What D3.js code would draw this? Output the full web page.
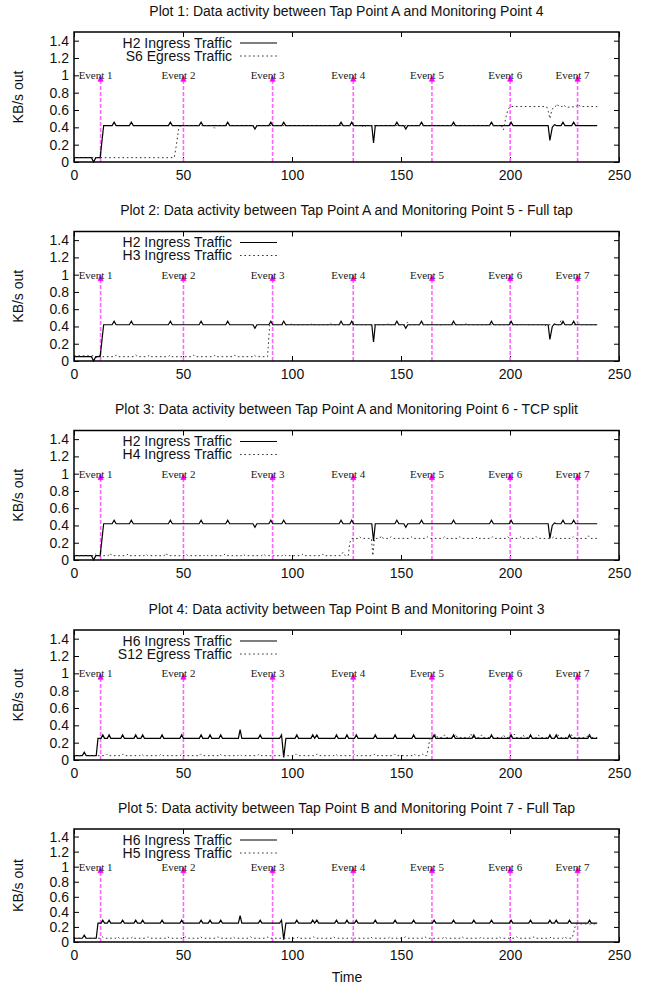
<!DOCTYPE html>
<html>
<head>
<meta charset="utf-8">
<script src="https://cdn.jsdelivr.net/npm/d3@7"></script>
<style>
  body { margin: 0; background: #fff; }
</style>
</head>
<body>
<div id="chart"></div>
<script>
// ---- data: [time, KB/s] ----
var h2Ingress = [
  [0,.05],[8,.05],[9,0],[10,.05],[12,.05],[13.6,.42],
  [17.5,.42],[18.4,.46],[19.3,.42],[25.4,.42],[26.3,.46],[27.2,.42],
  [43.3,.42],[44.2,.46],[45.1,.42],[57.4,.42],[58.3,.46],[59.2,.42],
  [69.6,.42],[70.5,.46],[71.4,.42],[82.1,.42],[83,.38],[83.9,.42],
  [89.4,.42],[90.3,.46],[91.2,.42],[95.3,.42],[96.2,.46],[97.1,.42],
  [121.6,.42],[122.5,.46],[123.4,.42],[126.5,.42],[127.4,.46],[128.3,.42],
  [136.6,.42],[137.4,.22],[138.2,.42],[147.2,.42],[148.1,.46],[149,.42],
  [151.3,.42],[152.2,.38],[153.1,.42],[158.5,.42],[159.4,.46],[160.3,.42],
  [173.2,.42],[174.1,.46],[175,.42],[190.6,.42],[191.5,.46],[192.4,.42],
  [199.6,.42],[200.5,.46],[201.4,.42],
  [217.5,.42],[218.3,.25],[219.4,.40],[220.4,.43],[221.3,.42],
  [223.4,.42],[224.3,.46],[225.2,.42],[228.3,.42],[229.2,.46],[230.1,.42],
  [240,.42]
];

var s6Egress = [
  [0,.05],[46,.05],[47,.2],[48,.38],[49,.42],
  [63.5,.42],[64.5,.39],[65.5,.42],[132,.42],[133,.40],[134,.42],
  [196,.42],[197,.37],[198,.5],[199,.6],[200,.64],
  [216.8,.64],[217.6,.58],[218.3,.50],[219.2,.60],[220.2,.64],
  [220.8,.64],[221.6,.67],[222.4,.64],[224,.64],[224.8,.66],[225.6,.63],
  [230.5,.64],[231.3,.67],[232.1,.64],[240,.64]
];

var h3Ingress = [
  [0,.06],[9,.06],[10.4,.04],[11.4,.07],[12.4,.05],
  [18.5,.05],[19.3,.07],[20.1,.05],[27.5,.05],[28.3,.07],[29.1,.05],
  [33.8,.05],[34.6,.07],[35.4,.05],[43.3,.05],[44.1,.07],[44.9,.05],
  [54.2,.05],[55,.07],[55.8,.05],[64,.05],[64.8,.07],[65.6,.05],
  [73,.05],[73.8,.07],[74.6,.05],[81.9,.05],[82.7,.07],[83.5,.05],
  [88.8,.05],[89.3,.25],[89.8,.42],
  [99.2,.42],[100,.44],[100.8,.42],[108.7,.42],[109.5,.44],[110.3,.42],
  [116.8,.42],[117.6,.44],[118.4,.42],[143.6,.42],[144.4,.44],[145.2,.42],
  [152.2,.42],[153,.45],[153.8,.42],[170.2,.42],[171,.44],[171.8,.42],
  [179.2,.42],[180,.44],[180.8,.42],[205.2,.42],[206,.44],[206.8,.42],
  [215,.42],[215.8,.40],[216.6,.42],[222.6,.42],[223.4,.47],[224.2,.42],
  [231.2,.42],[232,.44],[232.8,.42],[240,.42]
];

var h4Ingress = [
  [0,.05],[9,.05],[9.8,.07],[10.6,.05],
  [15.7,.05],[16.5,.08],[17.3,.05],[24,.05],[24.8,.07],[25.6,.05],
  [32.2,.05],[33,.07],[33.8,.05],[41.4,.05],[42.2,.08],[43,.05],
  [50.6,.05],[51.4,.07],[52.2,.05],[59.7,.05],[60.5,.07],[61.3,.05],
  [68.5,.05],[69.3,.07],[70.1,.05],[76.8,.05],[77.6,.07],[78.4,.05],
  [86.2,.05],[87,.07],[87.8,.05],[95.5,.05],[96.3,.07],[97.1,.05],
  [104.2,.05],[105,.07],[105.8,.05],[113.4,.05],[114.2,.07],[115,.05],
  [122.4,.05],[123.4,.09],[124.4,.05],[125.8,.05],[126.5,.2],[127.5,.25],
  [130.2,.25],[131,.27],[131.8,.25],[136.4,.25],[137.1,.05],[137.8,.25],
  [140.2,.25],[141,.28],[141.8,.25],[144.7,.25],[145.5,.27],[146.3,.25],
  [154.2,.25],[155,.27],[155.8,.25],[161.2,.25],[162,.27],[162.8,.25],
  [169.2,.25],[170,.27],[170.8,.25],[176.2,.25],[177,.27],[177.8,.25],
  [184.2,.25],[185,.27],[185.8,.25],[191.2,.25],[192,.27],[192.8,.25],
  [198.2,.25],[199,.27],[199.8,.25],[204.2,.25],[205,.27],[205.8,.25],
  [211.2,.25],[212,.27],[212.8,.25],[219.2,.25],[220,.27],[220.8,.25],
  [228.2,.25],[229,.27],[229.8,.25],[235.2,.25],[236,.28],[236.8,.25],
  [240,.25]
];

var h6Ingress = [
  [0,.05],[3.8,.05],[4.7,.09],[5.6,.05],[10.2,.05],[11,.25],
  [12.4,.25],[13.2,.29],[14,.25],[15.3,.25],[16.1,.29],[16.9,.25],
  [21.5,.25],[22.3,.29],[23.1,.25],[27.5,.25],[28.3,.29],[29.1,.25],
  [30.7,.25],[31.5,.29],[32.3,.25],[39.6,.25],[40.4,.29],[41.2,.25],
  [48.6,.25],[49.4,.29],[50.2,.25],[57.5,.25],[58.3,.29],[59.1,.25],
  [61.6,.25],[62.4,.29],[63.2,.25],[66.5,.25],[67.3,.29],[68.1,.25],
  [75.4,.25],[76.2,.35],[77,.25],[84.6,.25],[85.4,.29],[86.2,.25],
  [94.3,.25],[95.2,.29],[96.2,.03],[97.2,.25],
  [101.4,.25],[102.2,.29],[103,.25],[108.7,.25],[109.5,.29],[110.4,.25],
  [111.4,.29],[112.2,.25],[119.6,.25],[120.4,.29],[121.2,.25],
  [124.4,.25],[125.2,.29],[126,.25],[128.7,.25],[129.5,.29],[130.3,.25],
  [137.4,.25],[138.2,.29],[139,.25],[146.5,.25],[147.3,.29],[148.1,.25],
  [155,.25],[155.8,.29],[156.6,.25],[164.4,.25],[165.2,.29],[166,.25],
  [173.3,.25],[174.1,.29],[174.9,.25],[182.6,.25],[183.4,.29],[184.2,.25],
  [190.7,.25],[191.5,.29],[192.3,.25],[199.7,.25],[200.5,.29],[201.3,.25],
  [208.6,.25],[209.4,.29],[210.2,.25],[217.5,.25],[218.3,.29],[219.1,.25],
  [220.4,.25],[221.2,.29],[222,.25],[226.5,.25],[227.3,.29],[228.1,.25],
  [235.7,.25],[236.5,.29],[237.3,.25],[240,.25]
];

var s12Egress = [
  [0,.05],[3.8,.05],[4.7,.08],[5.6,.05],
  [14.2,.05],[15,.07],[15.8,.05],[21.7,.05],[22.5,.07],[23.3,.05],
  [30.2,.05],[31,.07],[31.8,.05],[39.2,.05],[40,.07],[40.8,.05],
  [48.7,.05],[49.5,.07],[50.3,.05],[57.2,.05],[58,.07],[58.8,.05],
  [66.2,.05],[67,.07],[67.8,.05],[75.2,.05],[76,.07],[76.8,.05],
  [84.2,.05],[85,.07],[85.8,.05],[101.2,.05],[102,.07],[102.8,.05],
  [110.7,.05],[111.5,.07],[112.3,.05],[119.2,.05],[120,.07],[120.8,.05],
  [128.2,.05],[129,.07],[129.8,.05],[137.2,.05],[138,.07],[138.8,.05],
  [146.2,.05],[147,.07],[147.8,.05],[155.2,.05],[156,.07],[156.8,.05],
  [159.2,.05],[160,.07],[160.8,.05],[161.8,.05],[162.6,.15],[163.4,.27],
  [165.2,.26],[166,.30],[166.8,.26],[169.2,.26],[170,.29],[170.8,.26],
  [174.2,.26],[175,.30],[175.8,.26],[181.2,.26],[182,.30],[182.8,.26],
  [186.2,.26],[187,.29],[187.8,.26],[196.2,.26],[197,.29],[197.8,.26],
  [201.2,.26],[202,.30],[202.8,.26],[205.2,.26],[206,.29],[206.8,.26],
  [212.2,.26],[213,.29],[213.8,.26],[221.2,.26],[222,.29],[222.8,.26],
  [227.2,.26],[228,.30],[228.8,.26],[235.2,.26],[236,.30],[236.8,.26],
  [240,.26]
];

var h5Ingress = [
  [0,.05],[3.7,.05],[4.5,.08],[5.3,.05],
  [12.2,.05],[13,.07],[13.8,.05],[19.2,.05],[20,.07],[20.8,.05],
  [26.2,.05],[27,.07],[27.8,.05],[33.2,.05],[34,.07],[34.8,.05],
  [42.2,.05],[43,.07],[43.8,.05],[50.2,.05],[51,.07],[51.8,.05],
  [57.2,.05],[58,.07],[58.8,.05],[65.2,.05],[66,.07],[66.8,.05],
  [72.2,.05],[73,.07],[73.8,.05],[80.2,.05],[81,.07],[81.8,.05],
  [88.2,.05],[89,.07],[89.8,.05],[102.2,.05],[103,.07],[103.8,.05],
  [109.2,.05],[110,.07],[110.8,.05],[118.2,.05],[119,.07],[119.8,.05],
  [127.2,.05],[128,.07],[128.8,.05],[135.2,.05],[136,.07],[136.8,.05],
  [144.2,.05],[145,.07],[145.8,.05],[151.2,.05],[152,.07],[152.8,.05],
  [160.2,.05],[161,.07],[161.8,.05],[169.2,.05],[170,.07],[170.8,.05],
  [177.2,.05],[178,.07],[178.8,.05],[186.2,.05],[187,.07],[187.8,.05],
  [194.2,.05],[195,.07],[195.8,.05],[202.2,.05],[203,.07],[203.8,.05],
  [210.2,.05],[211,.07],[211.8,.05],[218.2,.05],[219,.07],[219.8,.05],
  [224.2,.05],[225,.07],[225.8,.05],[228.5,.05],[229.4,.15],[230.2,.24],
  [240,.24]
];

var eventTimes = [12.2, 50.2, 91.1, 128.1, 164.2, 200.1, 231.0];
var eventLabels = ["Event 1", "Event 2", "Event 3", "Event 4", "Event 5", "Event 6", "Event 7"];
var eventLevel = 1.0;

var xTicks = [0, 50, 100, 150, 200, 250];
var yTicks = [0, 0.2, 0.4, 0.6, 0.8, 1, 1.2, 1.4];

var titles = [
  "Plot 1: Data activity between Tap Point A and Monitoring Point 4",
  "Plot 2: Data activity between Tap Point A and Monitoring Point 5 - Full tap",
  "Plot 3: Data activity between Tap Point A and Monitoring Point 6 - TCP split",
  "Plot 4: Data activity between Tap Point B and Monitoring Point 3",
  "Plot 5: Data activity between Tap Point B and Monitoring Point 7 - Full Tap"
];
var solidNames = ["H2 Ingress Traffic", "H2 Ingress Traffic", "H2 Ingress Traffic", "H6 Ingress Traffic", "H6 Ingress Traffic"];
var dottedNames = ["S6 Egress Traffic", "H3 Ingress Traffic", "H4 Ingress Traffic", "S12 Egress Traffic", "H5 Ingress Traffic"];
var solidSeries = [h2Ingress, h2Ingress, h2Ingress, h6Ingress, h6Ingress];
var dottedSeries = [s6Egress, h3Ingress, h4Ingress, s12Egress, h5Ingress];

// ---- layout ----
var W = 651, H = 988;
var left = 74, right = 619;
var panelTops = [32, 231.5, 430.5, 630, 829];
var panelHeights = [130, 129.5, 129.5, 130, 113];
var sans = "'Liberation Sans', Arial, Helvetica, sans-serif";
var serif = "'Liberation Serif', 'Times New Roman', serif";
var dotted = "1.6,2.8";

var svg = d3.select("#chart")
  .append("svg")
    .attr("width", W)
    .attr("height", H)
    .style("font-family", sans);

var x = d3.scaleLinear()
  .domain([0, 250])
  .range([left, right]);

titles.forEach(function(title, i) {
  var top = panelTops[i], h = panelHeights[i], bottom = top + h;
  var y = d3.scaleLinear()
    .domain([0, 1.5])
    .range([bottom, top]);

  var g = svg.append("g");

  // title
  g.append("text")
    .attr("x", (left + right) / 2)
    .attr("y", top - 21)
    .attr("dy", "0.35em")
    .attr("text-anchor", "middle")
    .style("font-size", "14px")
    .attr("fill", "#111")
    .text(title);

  // y label
  g.append("text")
    .attr("transform", "translate(18," + (top + h / 2) + ") rotate(-90)")
    .attr("dy", "0.35em")
    .attr("text-anchor", "middle")
    .style("font-size", "14px")
    .attr("fill", "#111")
    .text("KB/s out");

  // axes, ticks pointing inward on all four sides
  var ax = [
    g.append("g").attr("transform", "translate(" + left + ",0)")
      .call(d3.axisLeft(y).tickValues(yTicks).tickSize(-5).tickPadding(5).tickFormat(d3.format("~g"))),
    g.append("g").attr("transform", "translate(" + right + ",0)")
      .call(d3.axisRight(y).tickValues(yTicks).tickSize(-5).tickFormat("")),
    g.append("g").attr("transform", "translate(0," + bottom + ")")
      .call(d3.axisBottom(x).tickValues(xTicks).tickSize(-5).tickPadding(8)),
    g.append("g").attr("transform", "translate(0," + top + ")")
      .call(d3.axisTop(x).tickValues(xTicks).tickSize(-5).tickFormat(""))
  ];
  ax.forEach(function(a) {
    a.attr("font-family", null).attr("font-size", null);
    a.select(".domain").remove();
    a.selectAll("text")
      .style("font-size", "14px")
      .attr("fill", "#111");
    a.selectAll("line").attr("stroke", "#000");
  });

  // event arrows
  eventTimes.forEach(function(t, k) {
    var ex = x(t), ey = y(eventLevel);
    g.append("line")
      .attr("x1", ex).attr("x2", ex)
      .attr("y1", bottom).attr("y2", ey + 2)
      .attr("stroke", "#ff66ff")
      .attr("stroke-width", 1.6)
      .attr("stroke-dasharray", "4,2");
    g.append("path")
      .attr("d", "M" + (ex - 2.6) + "," + (ey + 6) + "L" + ex + "," + ey + "L" + (ex + 2.6) + "," + (ey + 6) + "Z")
      .attr("fill", "#ff00ff")
      .attr("stroke", "#ff00ff")
      .attr("stroke-width", 0.6);
    g.append("text")
      .attr("x", ex - 5)
      .attr("y", ey)
      .attr("dy", "0.35em")
      .attr("text-anchor", "middle")
      .style("font-family", serif)
      .style("font-size", "11px")
      .attr("fill", "#222")
      .text(eventLabels[k]);
  });

  var line = d3.line()
    .x(function(d) { return x(d[0]); })
    .y(function(d) { return y(d[1]); });

  g.append("path")
    .datum(solidSeries[i])
    .attr("d", line)
    .attr("fill", "none")
    .attr("stroke", "#000")
    .attr("stroke-width", 1.2);

  g.append("path")
    .datum(dottedSeries[i])
    .attr("d", line)
    .attr("fill", "none")
    .attr("stroke", "#333")
    .attr("stroke-width", 1)
    .attr("stroke-dasharray", dotted);

  // legend
  var rowY = [top + 11, top + 24];
  [[solidNames[i], null], [dottedNames[i], dotted]].forEach(function(item, r) {
    g.append("text")
      .attr("x", 232)
      .attr("y", rowY[r])
      .attr("dy", "0.35em")
      .attr("text-anchor", "end")
      .style("font-size", "14px")
      .attr("fill", "#111")
      .text(item[0]);
    g.append("line")
      .attr("x1", 240).attr("x2", 277)
      .attr("y1", rowY[r]).attr("y2", rowY[r])
      .attr("stroke", item[1] ? "#333" : "#000")
      .attr("stroke-width", item[1] ? 1 : 1.2)
      .attr("stroke-dasharray", item[1]);
  });

  // frame
  g.append("rect")
    .attr("x", left).attr("y", top)
    .attr("width", right - left).attr("height", h)
    .attr("fill", "none")
    .attr("stroke", "#000")
    .attr("stroke-width", 1.5);
});

svg.append("text")
  .attr("x", 347)
  .attr("y", 977)
  .attr("dy", "0.35em")
  .attr("text-anchor", "middle")
  .style("font-size", "14px")
  .attr("fill", "#111")
  .text("Time");
</script>
</body>
</html>
